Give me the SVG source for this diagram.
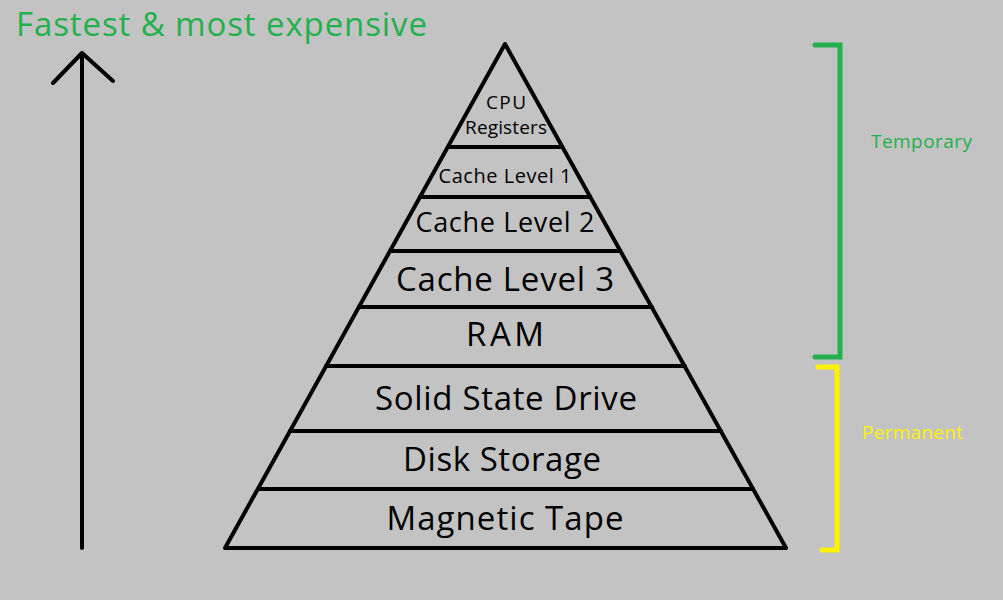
<svg xmlns="http://www.w3.org/2000/svg" width="1003" height="600" viewBox="0 0 1003 600">
<style>
.ln{stroke:#000;stroke-width:4;fill:none;stroke-linecap:round;stroke-linejoin:round}
.t{font-family:"Open Sans","Noto Sans","Liberation Sans",sans-serif;fill:#000;text-anchor:middle}
.s{font-family:"Open Sans","Noto Sans","Liberation Sans",sans-serif}
.g{stroke:#22b14c;stroke-width:5;fill:none;stroke-linecap:round}
.y{stroke:#fff200;stroke-width:5;fill:none;stroke-linecap:round}
</style>
<rect width="1003" height="600" fill="#c3c3c3"/>
<text class="s" x="16" y="36" font-size="33" fill="#22b14c" textLength="411" lengthAdjust="spacing">Fastest &amp; most expensive</text>
<g id="connectors">
<path class="ln" d="M82 548 V53 M53 83 L82 53 L113 81"/>
</g>
<g id="pyramid">
<path class="ln" d="M505 44 L786 548 L225 548 Z"/>
<path class="ln" d="M448 147 H562 M420 197 H590 M390 251 H620 M359 307 H652 M326 366 H685 M290 431 H721 M258 489 H753"/>
</g>
<g id="n1"><text class="t" x="506" y="109" font-size="19" textLength="40" lengthAdjust="spacing">CPU</text><text class="t" x="506" y="134" font-size="19" textLength="82" lengthAdjust="spacing">Registers</text></g>
<g id="n2"><text class="t" x="505" y="183" font-size="20" textLength="133" lengthAdjust="spacing">Cache Level 1</text></g>
<g id="n3"><text class="t" x="505" y="232" font-size="27" textLength="179" lengthAdjust="spacing">Cache Level 2</text></g>
<g id="n4"><text class="t" x="505" y="291" font-size="33" textLength="218" lengthAdjust="spacing">Cache Level 3</text></g>
<g id="n5"><text class="t" x="505" y="346" font-size="33" textLength="78" lengthAdjust="spacing">RAM</text></g>
<g id="n6"><text class="t" x="506" y="410" font-size="33" textLength="262" lengthAdjust="spacing">Solid State Drive</text></g>
<g id="n7"><text class="t" x="502" y="471" font-size="33" textLength="198" lengthAdjust="spacing">Disk Storage</text></g>
<g id="n8"><text class="t" x="505" y="530" font-size="33" textLength="237" lengthAdjust="spacing">Magnetic Tape</text></g>
<g id="temporary">
<path class="g" d="M815 45 H840 V357 H815"/>
<text class="s" x="871" y="148" font-size="19" fill="#22b14c" textLength="101" lengthAdjust="spacing">Temporary</text>
</g>
<g id="permanent">
<path class="y" d="M818 367 H837 V550 H822"/>
<text class="s" x="862" y="439" font-size="19" fill="#fff200" textLength="101" lengthAdjust="spacing">Permanent</text>
</g>
</svg>
